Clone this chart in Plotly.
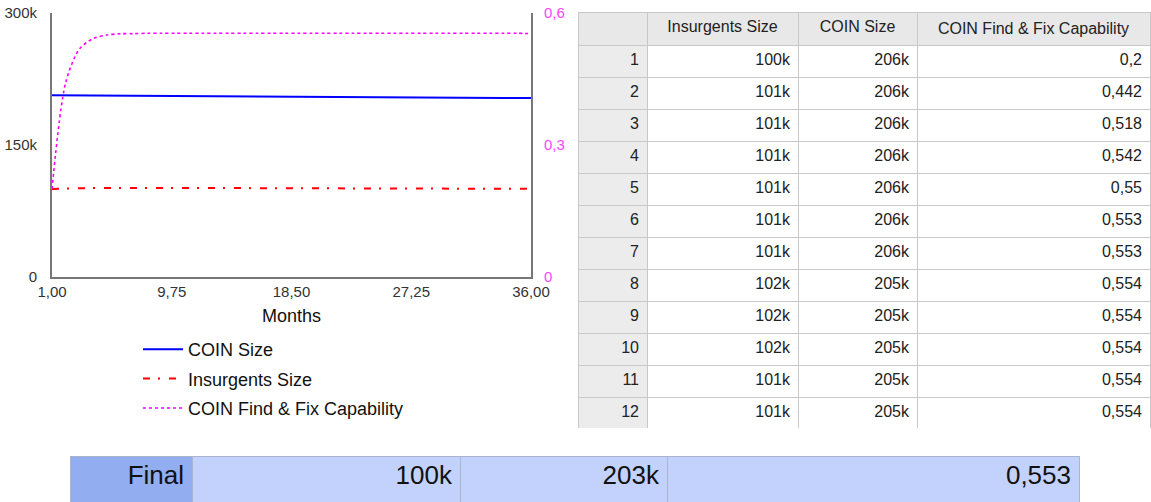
import plotly.graph_objects as go

# ---------------- data ----------------
months = list(range(1, 37))
coin_size = [206.4, 206.3, 206.2, 206.0, 205.9, 205.8, 205.6,
             205.4, 205.3, 205.2, 205.1, 205.0,
             204.9, 204.8, 204.8, 204.7, 204.6, 204.5, 204.5, 204.4, 204.3, 204.3, 204.2, 204.1,
             204.1, 204.0, 203.9, 203.9, 203.8, 203.8, 203.7, 203.7, 203.6, 203.5, 203.5, 203.4]
insurgents_size = [100.0, 100.7, 100.9, 101.1, 101.2, 101.3, 101.4, 101.6, 101.7, 101.6, 101.4, 101.2,
                   101.1, 101.0, 100.9, 100.9, 100.8, 100.8, 100.7, 100.7, 100.7, 100.6, 100.6, 100.6,
                   100.5, 100.5, 100.5, 100.5, 100.4, 100.4, 100.4, 100.4, 100.3, 100.3, 100.3, 100.2]
find_fix = [0.2, 0.442, 0.518, 0.542, 0.55, 0.553, 0.553] + [0.554] * 28 + [0.553]

x_tickvals = [1, 9.75, 18.5, 27.25, 36]
x_ticktext = ["1,00", "9,75", "18,50", "27,25", "36,00"]
y_tickvals = [0, 150, 300]
y_ticktext = ["0", "150k", "300k"]
y2_tickvals = [0, 0.3, 0.6]
y2_ticktext = ["0", "0,3", "0,6"]

table_headers = ["", "Insurgents Size", "COIN Size", "COIN Find & Fix Capability"]
table_rows = 12


def fmt_k(v):
    return f"{round(v)}k"


def fmt_frac(v):
    return f"{v:.3f}".rstrip("0").rstrip(".").replace(".", ",")


# ---------------- figure ----------------
W, H = 1151, 502
FONT = "Liberation Sans, Arial, sans-serif"


def px_x(p):
    return p / W


def px_y(p):
    return 1 - p / H


fig = go.Figure()

fig.add_trace(go.Scatter(x=months, y=coin_size, name="COIN Size", mode="lines",
                         legendgroup="a",
                         line=dict(color="#0000ff", width=2)))
fig.add_trace(go.Scatter(x=months, y=insurgents_size, name="Insurgents Size", mode="lines",
                         legendgroup="b",
                         line=dict(color="#ff0000", width=2, dash="7px,8px,2px,9px")))
fig.add_trace(go.Scatter(x=months, y=find_fix, name="COIN Find & Fix Capability", mode="lines",
                         yaxis="y2", legendgroup="c",
                         line=dict(color="#ff00ff", width=1.6, dash="dot", shape="spline", smoothing=0.8)))

# main table
rows = list(range(1, table_rows + 1))
col_ids = [str(r) for r in rows]
col_ins = [fmt_k(v) for v in insurgents_size[:table_rows]]
col_coin = [fmt_k(v) for v in coin_size[:table_rows]]
col_ff = [fmt_frac(v) for v in find_fix[:table_rows]]

fig.add_trace(go.Table(
    domain=dict(x=[px_x(578), px_x(1150)], y=[px_y(428), px_y(12)]),
    columnwidth=[69, 151, 119, 233],
    header=dict(values=table_headers, height=31,
                fill_color="#e8e8e8", line_color="#c8c8c8",
                align="center", font=dict(family=FONT, size=16, color="#222")),
    cells=dict(values=[col_ids, col_ins, col_coin, col_ff], height=32,
               fill_color=[["#ececec"] * table_rows, ["#ffffff"] * table_rows,
                           ["#ffffff"] * table_rows, ["#ffffff"] * table_rows],
               line_color="#c8c8c8", align="right",
               font=dict(family=FONT, size=16, color="#222")),
))

# final row
final_vals = ["Final", fmt_k(insurgents_size[-1]), fmt_k(coin_size[-1]), fmt_frac(find_fix[-1])]
fig.add_trace(go.Table(
    domain=dict(x=[px_x(70), px_x(1079)], y=[0, px_y(456)]),
    columnwidth=[122, 268, 207, 412],
    header=dict(values=final_vals, height=46,
                fill_color=["#93adf1", "#c2d2fc", "#c2d2fc", "#c2d2fc"],
                line_color="#aab4cc", align="right",
                font=dict(family=FONT, size=26, color="#111")),
    cells=dict(values=[[], [], [], []]),
))

fig.update_layout(
    width=W, height=H,
    margin=dict(l=0, r=0, t=0, b=0, autoexpand=False),
    paper_bgcolor="white", plot_bgcolor="white",
    font=dict(family=FONT, size=15, color="#333"),
    xaxis=dict(domain=[px_x(52), px_x(531)], range=[1, 36], automargin=False,
               tickvals=x_tickvals, ticktext=x_ticktext,
               showline=True, linecolor="#777", linewidth=2, showgrid=False, zeroline=False,
               ticks="", tickfont=dict(size=15, color="#333"),
               title=dict(text="Months", font=dict(size=18, color="#111"), standoff=10)),
    yaxis=dict(domain=[px_y(277), px_y(13)], range=[0, 300], automargin=False,
               tickvals=y_tickvals, ticktext=y_ticktext,
               showline=True, linecolor="#777", linewidth=2, showgrid=False, zeroline=False,
               ticks="", ticklabelstandoff=10, tickfont=dict(size=15, color="#333")),
    yaxis2=dict(overlaying="y", side="right", range=[0, 0.6], automargin=False,
                tickvals=y2_tickvals, ticktext=y2_ticktext,
                showline=True, linecolor="#777", linewidth=2, showgrid=False, zeroline=False,
                ticks="", ticklabelstandoff=8, tickfont=dict(size=15, color="#ff44ff")),
    legend=dict(x=px_x(138), y=px_y(331), xanchor="left", yanchor="top",
                font=dict(size=18, color="#111"), bgcolor="rgba(0,0,0,0)",
                itemwidth=40, tracegroupgap=3),
    showlegend=True,
)

fig.write_html("out.html", config={"displayModeBar": False},
               post_script="document.body.style.margin='0';document.body.style.overflow='hidden';")
